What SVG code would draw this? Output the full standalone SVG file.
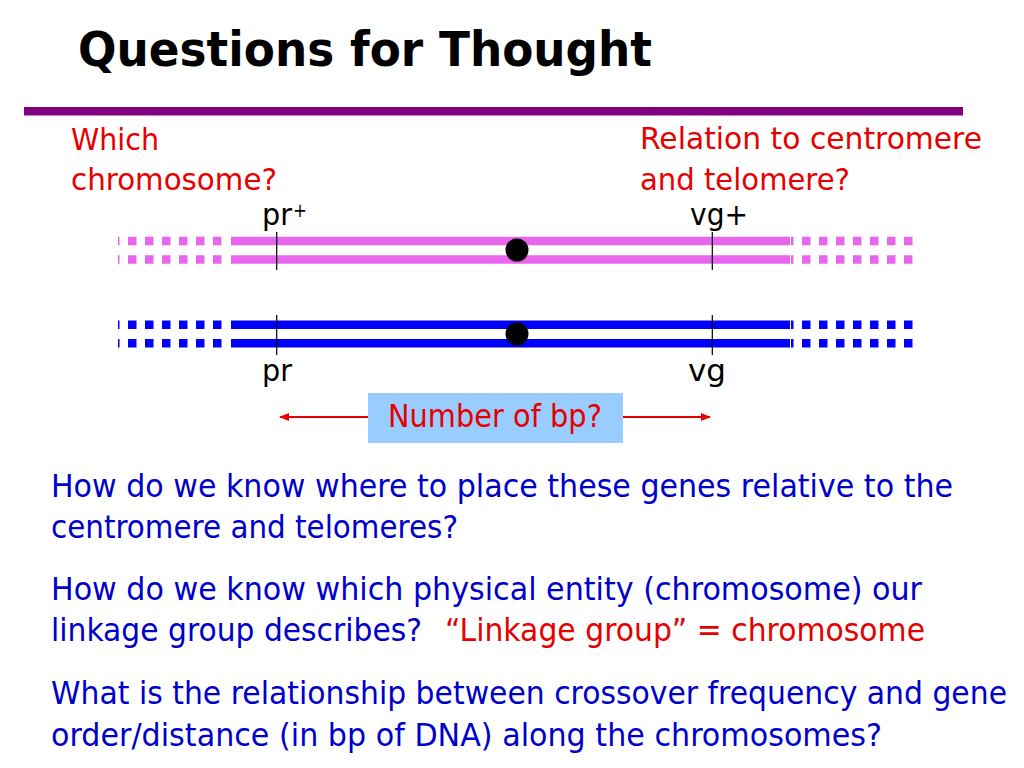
<svg xmlns="http://www.w3.org/2000/svg" width="1024" height="768" viewBox="0 0 1024 768">
<defs>
<style>
text{font-family:"DejaVu Sans","Liberation Sans",sans-serif}
.title{font-size:48px;font-weight:bold;fill:#000}
.red{font-size:31px;fill:#E60000}
.blue{font-size:32px;fill:#0000CC}
.lbl{font-size:31px;fill:#000}
.pink{stroke:#E866EE;stroke-width:8.5;fill:none}
.bl{stroke:#0000FF;stroke-width:8.5;fill:none}
.dash{stroke-dasharray:8.5 8.5;stroke-dashoffset:7}
.tick{stroke:#000;stroke-width:1.2}
.arr{stroke:#E60000;stroke-width:2;fill:none;marker-end:url(#ah)}
</style>
<marker id="ah" viewBox="0 0 10 10" refX="9" refY="5" markerWidth="5" markerHeight="5" orient="auto" markerUnits="strokeWidth">
<path d="M0,1 L10,5 L0,9 z" fill="#E60000"/>
</marker>
</defs>
<rect width="1024" height="768" fill="#fff"/>

<g id="title">
<text class="title" x="78" y="66" textLength="574" lengthAdjust="spacingAndGlyphs">Questions for Thought</text>
<rect x="24" y="107" width="939" height="8.5" fill="#800080"/>
</g>

<g id="q-which">
<text class="red" x="71" y="150" textLength="88" lengthAdjust="spacingAndGlyphs">Which</text>
<text class="red" x="71" y="190" textLength="206" lengthAdjust="spacingAndGlyphs">chromosome?</text>
</g>
<g id="q-relation">
<text class="red" x="640" y="149" textLength="342" lengthAdjust="spacingAndGlyphs">Relation to centromere</text>
<text class="red" x="640" y="190" textLength="210" lengthAdjust="spacingAndGlyphs">and telomere?</text>
</g>

<g id="chromosome-pink">
<line class="pink dash" x1="118" y1="241" x2="222.5" y2="241"/>
<line class="pink dash" x1="118" y1="259.5" x2="222.5" y2="259.5"/>
<line class="pink" x1="231" y1="241" x2="790" y2="241"/>
<line class="pink" x1="231" y1="259.5" x2="790" y2="259.5"/>
<line class="pink" x1="791" y1="241" x2="913" y2="241" style="stroke-dasharray:8.5 8.5;stroke-dashoffset:6"/>
<line class="pink" x1="791" y1="259.5" x2="913" y2="259.5" style="stroke-dasharray:8.5 8.5;stroke-dashoffset:6"/>
<circle cx="517" cy="250" r="11.5" fill="#000"/>
</g>

<g id="chromosome-blue">
<line class="bl dash" x1="118" y1="324.7" x2="222.5" y2="324.7"/>
<line class="bl dash" x1="118" y1="343.2" x2="222.5" y2="343.2"/>
<line class="bl" x1="231" y1="324.7" x2="790" y2="324.7"/>
<line class="bl" x1="231" y1="343.2" x2="790" y2="343.2"/>
<line class="bl" x1="791" y1="324.7" x2="913" y2="324.7" style="stroke-dasharray:8.5 8.5;stroke-dashoffset:6"/>
<line class="bl" x1="791" y1="343.2" x2="913" y2="343.2" style="stroke-dasharray:8.5 8.5;stroke-dashoffset:6"/>
<circle cx="517" cy="334" r="11.5" fill="#000"/>
</g>

<g id="gene-pr">
<line class="tick" x1="276.7" y1="232" x2="276.7" y2="270"/>
<line class="tick" x1="276.7" y1="315" x2="276.7" y2="355"/>
<text class="lbl" x="262" y="225" textLength="30" lengthAdjust="spacingAndGlyphs">pr</text>
<text x="293" y="217" style="font-size:20px;fill:#000" textLength="14" lengthAdjust="spacingAndGlyphs">+</text>
<text class="lbl" x="262" y="381" textLength="30" lengthAdjust="spacingAndGlyphs">pr</text>
</g>

<g id="gene-vg">
<line class="tick" x1="712.3" y1="232" x2="712.3" y2="270"/>
<line class="tick" x1="712.3" y1="315" x2="712.3" y2="355"/>
<text class="lbl" x="690" y="225" textLength="58" lengthAdjust="spacingAndGlyphs">vg+</text>
<text class="lbl" x="688" y="381" textLength="38" lengthAdjust="spacingAndGlyphs">vg</text>
</g>

<g id="connectors">
<line class="arr" x1="368" y1="417" x2="280" y2="417"/>
<line class="arr" x1="623" y1="417" x2="710" y2="417"/>
</g>

<g id="bp-box">
<rect x="368" y="393" width="255" height="50" fill="#99CCFF"/>
<text class="red" x="388" y="427" style="font-size:32px" textLength="214" lengthAdjust="spacingAndGlyphs">Number of bp?</text>
</g>

<g id="questions">
<text class="blue" x="51" y="497" textLength="902" lengthAdjust="spacingAndGlyphs">How do we know where to place these genes relative to the</text>
<text class="blue" x="51" y="538" textLength="407" lengthAdjust="spacingAndGlyphs">centromere and telomeres?</text>
<text class="blue" x="51" y="600" textLength="871" lengthAdjust="spacingAndGlyphs">How do we know which physical entity (chromosome) our</text>
<text class="blue" x="51" y="641" textLength="371" lengthAdjust="spacingAndGlyphs">linkage group describes?</text>
<text class="red" x="445" y="641" style="font-size:32px" textLength="480" lengthAdjust="spacingAndGlyphs">“Linkage group” = chromosome</text>
<text class="blue" x="51" y="704" textLength="956" lengthAdjust="spacingAndGlyphs">What is the relationship between crossover frequency and gene</text>
<text class="blue" x="51" y="746" textLength="831" lengthAdjust="spacingAndGlyphs">order/distance (in bp of DNA) along the chromosomes?</text>
</g>
</svg>
